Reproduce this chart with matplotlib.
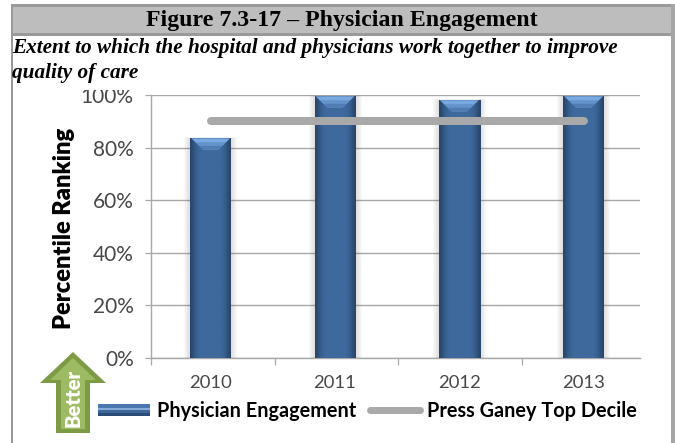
import numpy as np
import matplotlib
matplotlib.use("Agg")
import matplotlib.pyplot as plt
from matplotlib.patches import Rectangle, Polygon
from matplotlib.lines import Line2D
from matplotlib.legend_handler import HandlerBase

years = ["2010", "2011", "2012", "2013"]
engagement = [83.5, 99.5, 98, 99.5]
top_decile = [90, 90, 90, 90]
y_ticks = [0, 20, 40, 60, 80, 100]
title = "Figure 7.3-17 \u2013 Physician Engagement"
sub1 = "Extent to which the hospital and physicians work together to improve"
sub2 = "quality of care"

W, H = 675, 443
SANS = "Lato"
SERIF = "Liberation Serif"
fig = plt.figure(figsize=(W / 100, H / 100), dpi=100, facecolor="white")

# page furniture in pixel coordinates
bg = fig.add_axes([0, 0, 1, 1], zorder=0)
bg.set_xlim(0, W); bg.set_ylim(H, 0); bg.axis("off")
bg.add_patch(Rectangle((11, 4), 660, 31, fc="#bdbdbd", ec="none"))
for r in [(11, 4, 664, 2.5), (11, 33, 664, 2.5)]:
    bg.add_patch(Rectangle(r[:2], r[2], r[3], fc="#9a9a9a", ec="none"))
bg.add_patch(Rectangle((11, 4), 2, H - 4, fc="#9a9a9a", ec="none"))
bg.add_patch(Rectangle((671, 4), 4, H - 4, fc="#a6a6a6", ec="none"))
bg.text(341.5, 20, title, family=SERIF, weight="bold", fontsize=17.2, ha="center", va="center", color="black")

# chart
x0, x1, ytop, ybot = 151, 640, 95, 358
ax = fig.add_axes([x0 / W, 1 - ybot / H, (x1 - x0) / W, (ybot - ytop) / H], zorder=1)
ax.patch.set_alpha(0)
unit = 124.3
xc = 210.7
ax.set_xlim((x0 - xc) / unit, (x1 - xc) / unit)
ax.set_ylim(0, 100)
pos = np.arange(len(years))
bw = 41 / unit
GRID = "#a8a8a8"
ax.yaxis.grid(True, color=GRID, lw=1.0, zorder=0)
ax.set_axisbelow(True)
for s in ("top", "right"):
    ax.spines[s].set_visible(False)
for s in ("left", "bottom"):
    ax.spines[s].set_color(GRID); ax.spines[s].set_linewidth(1.0)
ax.set_yticks(y_ticks)
ax.set_yticklabels([f"{v}%" for v in y_ticks], family=SANS, fontsize=15, color="#484848")
ax.tick_params(axis="y", length=4.5, color=GRID, width=0.9, pad=8)
ax.set_xticks(pos)
ax.set_xticklabels(years, family=SANS, fontsize=13.3, color="#484848")
ax.tick_params(axis="x", length=0, pad=12)
ax.set_xticks([(151 + 123.6 * i - xc) / unit for i in range(4)], minor=True)
ax.tick_params(axis="x", which="minor", length=5, color=GRID, width=0.9)

bars = ax.bar(pos, engagement, width=bw, color="#3d6899", edgecolor="none", zorder=3, label="Physician Engagement")
px_x, px_y = 1 / unit, 100 / (ybot - ytop)
grad = np.array([[0.0, 0.5, 0.85, 1, 1, 1, 1, 1, 1, 1, 0.85, 0.5, 0.0]])
dark = np.array([0x2a, 0x48, 0x6e]) / 255
mid = np.array([0x3e, 0x69, 0x9c]) / 255
img = (dark[None, None, :] * (1 - grad[..., None]) + mid[None, None, :] * grad[..., None])
bevel = [(0.0, "#7aa8e0"), (0.35, "#6492cb"), (0.68, "#4f7db4")]
for b in bars:
    x, w, h = b.get_x(), b.get_width(), b.get_height()
    for k in range(1, 7):
        ax.add_patch(Rectangle((x - k * px_x, 0), w + 2 * k * px_x, h + 0.2 * k * px_y,
                               fc="#404040", ec="none", alpha=0.028, zorder=2, clip_on=False))
    im = ax.imshow(img, extent=(x, x + w, 0, h), aspect="auto", zorder=3.1, interpolation="bilinear")
    bh, ins = 11 * px_y, 13 * px_x
    for i, (f, col) in enumerate(bevel):
        top_in = px_x + f * (ins - px_x)
        ax.add_patch(Polygon([(x + top_in, h - f * bh), (x + w - top_in, h - f * bh),
                              (x + w - ins, h - bh), (x + ins, h - bh)],
                             fc=col, ec="none", zorder=3.2 + i * 0.1))
ax.set_xlim((x0 - xc) / unit, (x1 - xc) / unit)
ax.set_ylim(0, 100)

line, = ax.plot(pos, top_decile, color="#a9a9a9", lw=8 * 0.72, solid_capstyle="round", zorder=4,
                label="Press Ganey Top Decile")

# white band that trims the top of the first label, as in the reference
cover = fig.add_axes([0, 0, 1, 1], zorder=2)
cover.set_xlim(0, W); cover.set_ylim(H, 0); cover.axis("off")
cover.add_patch(Rectangle((13, 36), 658, 53.5, fc="white", ec="none"))
cover.text(12.5, 48, sub1, family=SERIF, weight="bold", style="italic", fontsize=15.3, ha="left", va="center", color="black")
cover.text(12.5, 73, sub2, family=SERIF, weight="bold", style="italic", fontsize=15.3, ha="left", va="center", color="black")

cover.text(64, 228, "Percentile Ranking", family=SANS, weight="heavy", fontsize=17, rotation=90, ha="center", va="center", color="black")

# "Better" arrow
arrow = [(73, 352), (106, 383), (90, 383), (90, 433), (56, 433), (56, 383), (40, 383)]
inner = [(73, 358), (96, 380), (85, 380), (85, 429), (61, 429), (61, 380), (50, 380)]
cover.add_patch(Polygon(arrow, fc="#7d9a45", ec="none"))
cover.add_patch(Polygon(inner, fc="#9dbb62", ec="none"))
cover.text(73, 398, "Better", family=SANS, weight="heavy", fontsize=14.5, rotation=90, ha="center", va="center", color="white")


class BarHandle(HandlerBase):
    def create_artists(self, legend, orig, xd, yd, width, height, fontsize, trans):
        hh = 12 * 0.72
        y = -yd + height / 2 - hh / 2
        parts = [(0, "#4a78ae", 0.3), (0.3, "#86abd9", 0.16), (0.46, "#3d6899", 0.26), (0.72, "#2c4c78", 0.28)]
        return [Rectangle((-xd, y + hh * (1 - f - g)), width + 1, hh * g, fc=c, ec="none", transform=trans)
                for f, c, g in parts]


class LineHandle(HandlerBase):
    def create_artists(self, legend, orig, xd, yd, width, height, fontsize, trans):
        y = -yd + height / 2
        return [Line2D([-xd + 1, width - xd + 0.5], [y, y], color="#a9a9a9", lw=7 * 0.72,
                       solid_capstyle="round", transform=trans)]


gray = Line2D([], [], color="#a9a9a9", lw=7 * 0.72, solid_capstyle="round")
handles = [bars, gray]
labels = ["Physician Engagement", "Press Ganey Top Decile"]
leg = ax.legend(handles, labels, loc="center left",
                bbox_to_anchor=(98 / W, 1 - 411 / H), bbox_transform=fig.transFigure,
                ncol=2, frameon=False, borderpad=0, borderaxespad=0,
                handlelength=2.55, handletextpad=0.4, columnspacing=0.65,
                handler_map={type(bars): BarHandle(), gray: LineHandle()},
                prop={"family": SANS, "weight": "bold", "size": 14.3})
for t in leg.get_texts():
    t.set_color("black")

fig.savefig("out.png", dpi=100)
